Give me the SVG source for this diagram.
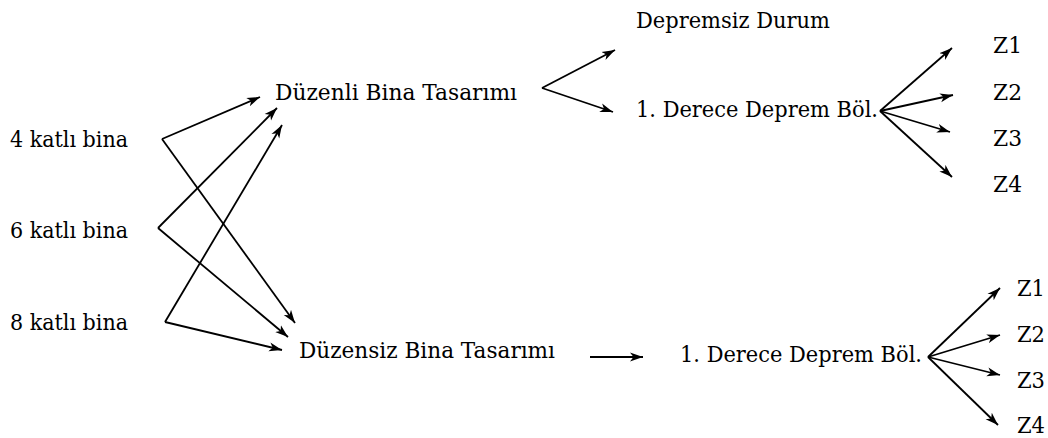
<svg xmlns="http://www.w3.org/2000/svg" width="1048" height="438" viewBox="0 0 1048 438">
<style>
text{font-family:"DejaVu Serif","Noto Serif","Liberation Serif",serif;font-size:23px;fill:#000}
.c line{stroke:#000;stroke-width:1.8;marker-end:url(#ah)}
</style>
<defs>
<marker id="ah" markerWidth="14" markerHeight="10" refX="13" refY="5" orient="auto" markerUnits="userSpaceOnUse">
<path d="M0,0.5 L13,5 L0,9.5 L3.5,5 Z" fill="#000"/>
</marker>
</defs>
<rect width="1048" height="438" fill="#fff"/>
<g id="n4"><text x="10" y="147" textLength="118" lengthAdjust="spacingAndGlyphs">4 katlı bina</text></g>
<g id="n6"><text x="10" y="238" textLength="118" lengthAdjust="spacingAndGlyphs">6 katlı bina</text></g>
<g id="n8"><text x="10" y="330" textLength="118" lengthAdjust="spacingAndGlyphs">8 katlı bina</text></g>
<g id="duzenli"><text x="275" y="100" textLength="242" lengthAdjust="spacingAndGlyphs">Düzenli Bina Tasarımı</text></g>
<g id="depremsiz"><text x="636" y="28" textLength="194" lengthAdjust="spacingAndGlyphs">Depremsiz Durum</text></g>
<g id="derece1"><text x="636" y="117" textLength="242" lengthAdjust="spacingAndGlyphs">1. Derece Deprem Böl.</text></g>
<g id="tz1"><text x="993" y="53" textLength="29" lengthAdjust="spacingAndGlyphs">Z1</text></g>
<g id="tz2"><text x="993" y="100" textLength="29" lengthAdjust="spacingAndGlyphs">Z2</text></g>
<g id="tz3"><text x="993" y="146" textLength="29" lengthAdjust="spacingAndGlyphs">Z3</text></g>
<g id="tz4"><text x="993" y="192" textLength="29" lengthAdjust="spacingAndGlyphs">Z4</text></g>
<g id="duzensiz"><text x="299" y="358" textLength="256" lengthAdjust="spacingAndGlyphs">Düzensiz Bina Tasarımı</text></g>
<g id="derece2"><text x="680" y="362" textLength="242" lengthAdjust="spacingAndGlyphs">1. Derece Deprem Böl.</text></g>
<g id="bz1"><text x="1017" y="296" textLength="28" lengthAdjust="spacingAndGlyphs">Z1</text></g>
<g id="bz2"><text x="1017" y="342" textLength="28" lengthAdjust="spacingAndGlyphs">Z2</text></g>
<g id="bz3"><text x="1017" y="388" textLength="28" lengthAdjust="spacingAndGlyphs">Z3</text></g>
<g id="bz4"><text x="1017" y="433" textLength="28" lengthAdjust="spacingAndGlyphs">Z4</text></g>
<g class="c" id="connectors">
<line x1="162" y1="139" x2="260" y2="97"/>
<line x1="162" y1="139" x2="295" y2="323"/>
<line x1="158" y1="228" x2="277" y2="108"/>
<line x1="158" y1="228" x2="288" y2="337"/>
<line x1="165" y1="322" x2="282" y2="125"/>
<line x1="165" y1="322" x2="282" y2="350"/>
<line x1="542" y1="88" x2="615" y2="50"/>
<line x1="542" y1="88" x2="613" y2="112"/>
<line x1="880" y1="111" x2="952" y2="48"/>
<line x1="880" y1="111" x2="953" y2="95"/>
<line x1="880" y1="111" x2="950" y2="132"/>
<line x1="880" y1="111" x2="952" y2="177"/>
<line x1="590" y1="357" x2="643" y2="357"/>
<line x1="928" y1="357" x2="1000" y2="288"/>
<line x1="928" y1="357" x2="1000" y2="335"/>
<line x1="928" y1="357" x2="1000" y2="375"/>
<line x1="928" y1="357" x2="998" y2="425"/>
</g>
</svg>
